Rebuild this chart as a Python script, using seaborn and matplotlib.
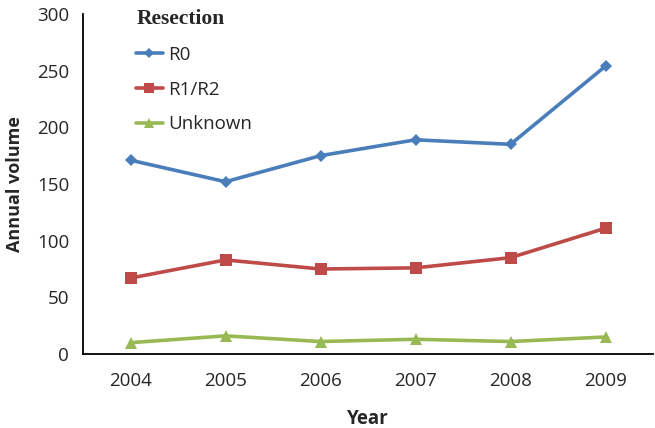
import matplotlib
matplotlib.use("Agg")
import matplotlib.pyplot as plt
import seaborn as sns
import pandas as pd
from matplotlib.font_manager import FontProperties

years = ["2004", "2005", "2006", "2007", "2008", "2009"]
r0 = [171, 152, 175, 189, 185, 254]
r1r2 = [67, 83, 75, 76, 85, 111]
unknown = [10, 16, 11, 13, 11, 15]
series_names = ["R0", "R1/R2", "Unknown"]
y_ticks = [0, 50, 100, 150, 200, 250, 300]

sns.set_style("white")
plt.rcParams["font.family"] = ["Open Sans", "DejaVu Sans"]

df = pd.DataFrame({
    "Year": years * 3,
    "value": r0 + r1r2 + unknown,
    "Resection": sum([[n] * len(years) for n in series_names], []),
})

colors = {"R0": "#4A7EBB", "R1/R2": "#BE4B48", "Unknown": "#98B954"}
markers = {"R0": "D", "R1/R2": "s", "Unknown": "^"}
msize = {"R0": 6.5, "R1/R2": 8.5, "Unknown": 9}

fig = plt.figure(figsize=(6.55, 4.28), dpi=100)
ax = fig.add_axes([83 / 655, 1 - 354 / 428, 570 / 655, 340 / 428])

for name in series_names:
    sub = df[df["Resection"] == name]
    sns.lineplot(data=sub, x="Year", y="value", ax=ax, color=colors[name],
                 marker=markers[name], markersize=msize[name], linewidth=2.6,
                 markeredgewidth=0, label=name, sort=False)

ax.set_xlim(-0.5, 5.5)
ax.set_ylim(0, 300)
ax.set_yticks(y_ticks)
ax.set_xticks(range(len(years)))
ax.set_xticklabels(years)
ax.set_xticks([i - 0.5 for i in range(len(years) + 1)], minor=True)
ax.tick_params(axis="x", which="major", length=0, pad=13, labelsize=13.5)
ax.tick_params(axis="x", which="minor", length=6, width=1.2, direction="out", color="black")
ax.tick_params(axis="y", length=6, width=1.2, direction="out", color="black", labelsize=13.5, pad=4)

for s in ["top", "right"]:
    ax.spines[s].set_visible(False)
for s in ["left", "bottom"]:
    ax.spines[s].set_color("black")
    ax.spines[s].set_linewidth(1.3)

ax.set_xlabel("Year", fontsize=13.5, fontweight="bold", labelpad=14)
ax.set_ylabel("Annual volume", fontsize=13, fontweight="bold", labelpad=9)

title_fp = FontProperties(family="Liberation Serif", weight="bold", size=15.5)
leg = ax.legend(title="Resection", frameon=False, loc="upper left",
                bbox_to_anchor=(0.064, 1.065), fontsize=13.5, title_fontproperties=title_fp,
                handlelength=1.4, labelspacing=0.9, handletextpad=0.3, markerscale=0.8)
leg._legend_box.align = "left"

fig.savefig("out.png", dpi=100)
